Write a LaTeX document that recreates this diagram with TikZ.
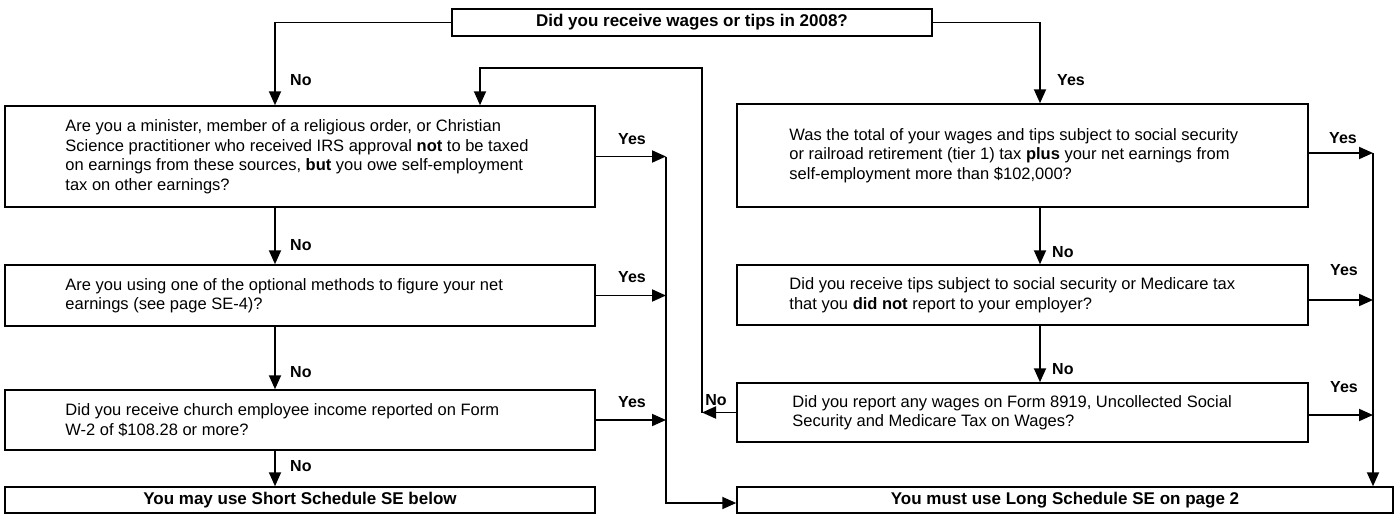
\documentclass[tikz,border=0pt]{standalone}
\usepackage{fontspec}
\setmainfont{Liberation Sans}
\usetikzlibrary{arrows.meta}
\begin{document}
\begin{tikzpicture}[x=1pt,y=-1pt,
  box/.style={draw, line width=1.5pt, inner sep=0pt},
  conn/.style={line width=1.9pt},
  arr/.style={conn, -{Triangle[length=14pt,width=12pt]}},
  qtext/.style={anchor=west, align=left, inner sep=0pt, font=\fontsize{16.5}{19.5}\selectfont},
  lbl/.style={font=\bfseries\fontsize{16}{18}\selectfont, inner sep=0pt},
  btext/.style={font=\bfseries\fontsize{17}{20}\selectfont}
]
\useasboundingbox (0,0) rectangle (1395,517);
% column coordinates
\coordinate (lc) at (275,0);
\coordinate (rc) at (1040,0);
\coordinate (lj) at (666,0);
\coordinate (rj) at (1373,0);
\coordinate (lp) at (702,0);
\coordinate (lq) at (480,0);
\coordinate (ly) at (0,68);
% boxes
\node[box, btext, minimum width=480pt, minimum height=27pt] (top) at (692,22.5) {Did you receive wages or tips in 2008?};
\node[box, minimum width=590pt, minimum height=101pt] (L1) at (300,156.5) {};
\node[box, minimum width=590pt, minimum height=61pt] (L2) at (300,295.5) {};
\node[box, minimum width=590pt, minimum height=60pt] (L3) at (300,420) {};
\node[box, btext, minimum width=590pt, minimum height=26pt] (L4) at (300,500) {You may use Short Schedule SE below};
\node[box, minimum width=571pt, minimum height=103pt] (R1) at (1022.5,155.5) {};
\node[box, minimum width=571pt, minimum height=60pt] (R2) at (1022.5,295) {};
\node[box, minimum width=571pt, minimum height=59pt] (R3) at (1022.5,412.5) {};
\node[box, btext, minimum width=656pt, minimum height=26pt] (R4) at (1065,500) {You must use Long Schedule SE on page 2};
% box texts
\node[qtext] (tL1) at ([xshift=61pt]L1.west) {Are you a minister, member of a religious order, or Christian\\Science practitioner who received IRS approval \textbf{not} to be taxed\\on earnings from these sources, \textbf{but} you owe self-employment\\tax on other earnings?};
\node[qtext] (tL2) at ([xshift=61pt]L2.west) {Are you using one of the optional methods to figure your net\\earnings (see page SE-4)?};
\node[qtext] (tL3) at ([xshift=61pt]L3.west) {Did you receive church employee income reported on Form\\W-2 of \$108.28 or more?};
\node[qtext] (tR1) at ([xshift=53pt]R1.west) {Was the total of your wages and tips subject to social security\\or railroad retirement (tier 1) tax \textbf{plus} your net earnings from\\self-employment more than \$102,000?};
\node[qtext] (tR2) at ([xshift=53pt]R2.west) {Did you receive tips subject to social security or Medicare tax\\that you \textbf{did not} report to your employer?};
\node[qtext] (tR3) at ([xshift=56pt]R3.west) {Did you report any wages on Form 8919, Uncollected Social\\Security and Medicare Tax on Wages?};
% exit points on the right of the right-hand boxes
\coordinate (e1) at ([yshift=2.5pt]R1.east);
\coordinate (e2) at ([yshift=-5pt]R2.east);
\coordinate (e3) at ([yshift=-2.5pt]R3.east);
% connectors: left column
\draw[arr] (top.west) -| (L1.north -| lc);
\draw[arr] (L1.south -| lc) -- (L2.north -| lc);
\draw[arr] (L2.south -| lc) -- (L3.north -| lc);
\draw[arr] (L3.south -| lc) -- (L4.north -| lc);
% right column
\draw[arr] (top.east) -| (R1.north -| rc);
\draw[arr] (R1.south -| rc) -- (R2.north -| rc);
\draw[arr] (R2.south -| rc) -- (R3.north -| rc);
% left yes
\draw[arr] (L1.east) -- (lj |- L1.east);
\draw[arr] (L2.east) -- (lj |- L2.east);
\draw[arr] (L3.east) -- (lj |- L3.east);
\draw[arr] (lj |- L1.east) |- ([yshift=-3pt]R4.west);
% right yes
\draw[arr] (e1) -- (rj |- e1);
\draw[arr] (e2) -- (rj |- e2);
\draw[arr] (e3) -- (rj |- e3);
\draw[arr] (rj |- e1) -- (rj |- R4.north);
% loop back
\draw[arr] (R3.west) -- (lp |- R3.west);
\draw[arr] (lp |- R3.west) -- (lp |- ly) -| (L1.north -| lq);
% labels
\node[lbl, anchor=west] (n1) at (290,80) {No};
\node[lbl, anchor=west] (n2) at (290,245) {No};
\node[lbl, anchor=west] (n3) at (290,372) {No};
\node[lbl, anchor=west] (n4) at (290,466) {No};
\node[lbl, anchor=west] (y0) at (1057,80) {Yes};
\node[lbl, anchor=west] (n5) at (1052,252) {No};
\node[lbl, anchor=west] (n6) at (1052,369) {No};
\node[lbl] (y1) at (632,139) {Yes};
\node[lbl] (y2) at (632,277) {Yes};
\node[lbl] (y3) at (632,402) {Yes};
\node[lbl] (y4) at (1343,138) {Yes};
\node[lbl] (y5) at (1344,270) {Yes};
\node[lbl] (y6) at (1344,387) {Yes};
\node[lbl] (n7) at (716,400) {No};
\end{tikzpicture}
\end{document}
